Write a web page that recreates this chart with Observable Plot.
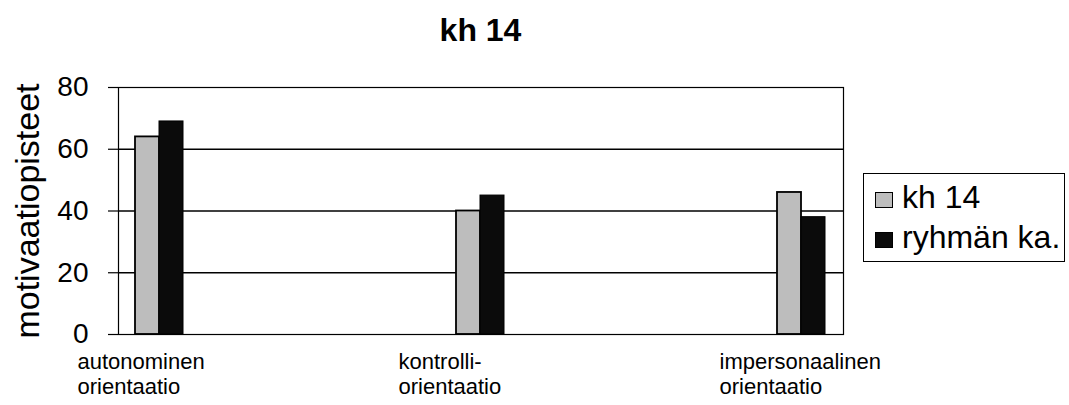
<!DOCTYPE html>
<html>
<head>
<meta charset="utf-8">
<script src="https://cdn.jsdelivr.net/npm/d3@7"></script>
<script src="https://cdn.jsdelivr.net/npm/@observablehq/plot@0.6"></script>
<style>
  html, body { margin: 0; padding: 0; background: #fff; }
  body { font-family: "Liberation Sans", Arial, sans-serif; color: #000; }
  #wrap { position: relative; width: 1069px; height: 405px; overflow: hidden; }
  #title { width: 961px; height: 55px; box-sizing: border-box; padding-top: 12px;
           line-height: 36px; font-size: 32px; font-weight: bold; text-align: center; }
  #legend { position: absolute; left: 863px; top: 173px; width: 202px; height: 89px;
            border: 1px solid #000; box-sizing: border-box; padding-top: 3px; background: #fff; }
  .row { height: 40px; line-height: 40px; font-size: 32px; white-space: nowrap; padding-left: 11px; }
  .sw { display: inline-block; width: 18px; height: 16px; margin-right: 9px; border: 1.5px solid #000;
        box-sizing: border-box; vertical-align: baseline; }
  svg { display: block; }
</style>
</head>
<body>
<div id="wrap">
  <div id="title"></div>
  <div id="chart"></div>
  <div id="legend"></div>
</div>
<script>
// ---- data ----
const title = "kh 14";
const categories = ["autonominen\norientaatio", "kontrolli-\norientaatio", "impersonaalinen\norientaatio"];
const seriesNames = ["kh 14", "ryhmän ka."];
const kh14 = [64, 40, 46];
const ryhmanKa = [69, 45, 38];
const yTicks = [0, 20, 40, 60, 80];
const gridTicks = [20, 40, 60];
const yLabel = "motivaatiopisteet";
const seriesColors = ["#bdbdbd", "#0b0b0b"];

const rows = categories.flatMap((c, i) => [
  {cat: c, s: seriesNames[0], v: kh14[i]},
  {cat: c, s: seriesNames[1], v: ryhmanKa[i]}
]);

document.getElementById("title").textContent = title;

const chart = Plot.plot({
  width: 1069,
  height: 350,
  marginLeft: 118,
  marginRight: 226,
  marginTop: 32,
  marginBottom: 71,
  style: {fontFamily: "'Liberation Sans', Arial, sans-serif", color: "#000", background: "#fff", overflow: "visible"},
  x: {domain: categories, paddingInner: 0.85, paddingOuter: 0.053},
  y: {domain: [0, 80]},
  color: {domain: seriesNames, range: seriesColors},
  marks: [
    Plot.ruleY(gridTicks, {stroke: "#000", strokeWidth: 1.3}),
    Plot.barY(rows.filter(d => d.s === seriesNames[0]), {x: "cat", y: "v", fill: "s", stroke: "#000", strokeWidth: 1.8, insetRight: 24}),
    Plot.barY(rows.filter(d => d.s === seriesNames[1]), {x: "cat", y: "v", fill: "s", stroke: "#000", strokeWidth: 1, insetLeft: 24}),
    Plot.frame({stroke: "#000", strokeWidth: 1.2}),
    Plot.axisY({ticks: yTicks, tickSize: 10, tickPadding: 20, fontSize: 28, strokeWidth: 1.2,
                label: yLabel, labelArrow: "none", labelAnchor: "center", labelOffset: 104}),
    Plot.axisX({tickSize: 0, tickPadding: 17, fontSize: 22, lineHeight: 1.14, textAnchor: "start", dx: -82, label: null})
  ]
});
document.getElementById("chart").appendChild(chart);
const lab = d3.select(chart).selectAll('[aria-label="y-axis label"]');
lab.attr("font-size", 34);
lab.selectAll("text").attr("font-size", 34).text(yLabel);

// legend
const legend = d3.select("#legend");
seriesNames.forEach((name, i) => {
  const r = legend.append("div").attr("class", "row");
  r.append("span").attr("class", "sw").style("background", seriesColors[i]);
  r.append("span").text(name);
});
</script>
</body>
</html>
